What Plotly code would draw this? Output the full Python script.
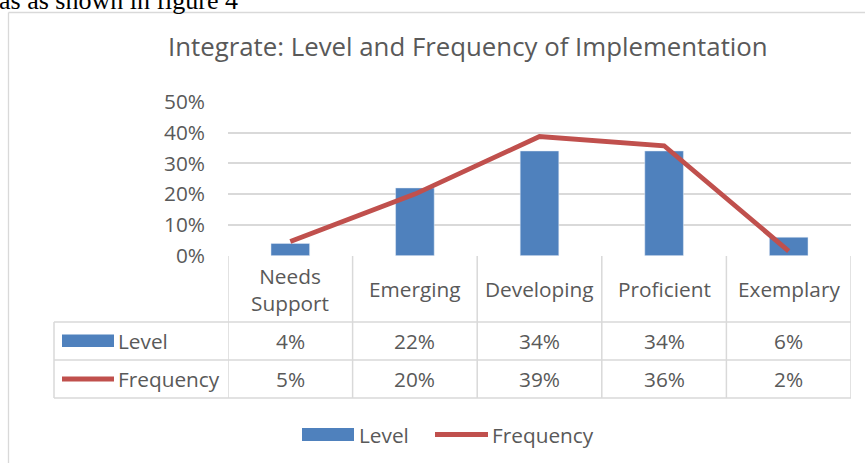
import plotly.graph_objects as go

categories = ["Needs<br>Support", "Emerging", "Developing", "Proficient", "Exemplary"]
level = [0.04, 0.22, 0.34, 0.34, 0.06]
frequency = [0.046, 0.20, 0.387, 0.357, 0.015]
level_labels = ["4%", "22%", "34%", "34%", "6%"]
frequency_labels = ["5%", "20%", "39%", "36%", "2%"]
series_names = ["Level", "Frequency"]
y_ticks = [0, 0.1, 0.2, 0.3, 0.4, 0.5]

W, H = 865, 463
BLUE = "#4F81BD"
RED = "#C0504D"
GRID = "#D9D9D9"
TXT = "#595959"
FONT = "Open Sans"


def px(x):
    return x / W


def py(y):
    return 1 - y / H


x_idx = list(range(len(categories)))

fig = go.Figure()
fig.add_trace(go.Bar(x=x_idx, y=level, name=series_names[0], marker_color=BLUE,
                     width=0.31, showlegend=False))
fig.add_trace(go.Scatter(x=x_idx, y=frequency, name=series_names[1], mode="lines",
                         line=dict(color=RED, width=4.8), showlegend=False))

shapes = []
# chart outer border
shapes.append(dict(type="line", xref="paper", yref="paper", x0=px(8.5), x1=px(8.5),
                   y0=py(12.5), y1=py(470), line=dict(color=GRID, width=1.3)))
shapes.append(dict(type="line", xref="paper", yref="paper", x0=px(8.5), x1=px(870),
                   y0=py(12.5), y1=py(12.5), line=dict(color=GRID, width=1.3)))

# data table grid
n = len(categories)
T_TOP, T_HDR, T_R1, T_R2 = 256, 322, 360, 398
LBL_LEFT = 54
for i in range(n + 1):
    shapes.append(dict(type="line", xref="x", yref="paper", x0=i - 0.5, x1=i - 0.5,
                       y0=py(T_TOP), y1=py(T_R2), line=dict(color=GRID, width=1.5)))
shapes.append(dict(type="line", xref="paper", yref="paper", x0=px(LBL_LEFT), x1=px(LBL_LEFT),
                   y0=py(T_HDR), y1=py(T_R2), line=dict(color=GRID, width=1.5)))
for yy in (T_HDR, T_R1, T_R2):
    shapes.append(dict(type="line", xref="paper", yref="paper",
                       x0=px(LBL_LEFT), x1=px(851), y0=py(yy), y1=py(yy),
                       line=dict(color=GRID, width=1.5)))

# legend keys inside table
shapes.append(dict(type="rect", xref="paper", yref="paper", x0=px(62), x1=px(114),
                   y0=py(347), y1=py(334.5), fillcolor=BLUE, line=dict(width=0)))
shapes.append(dict(type="line", xref="paper", yref="paper", x0=px(62), x1=px(114),
                   y0=py(379), y1=py(379), line=dict(color=RED, width=4.8)))
# bottom legend keys
shapes.append(dict(type="rect", xref="paper", yref="paper", x0=px(302), x1=px(354),
                   y0=py(441), y1=py(428), fillcolor=BLUE, line=dict(width=0)))
shapes.append(dict(type="line", xref="paper", yref="paper", x0=px(435), x1=px(488),
                   y0=py(434.5), y1=py(434.5), line=dict(color=RED, width=4.8)))

ann = []
tf = dict(family=FONT, size=20.8, color=TXT)
for i, c in enumerate(categories):
    ann.append(dict(x=i, y=py((T_TOP + T_HDR) / 2), xref="x", yref="paper", text=c,
                    showarrow=False, font=tf, xanchor="center", yanchor="middle"))
    ann.append(dict(x=i, y=py((T_HDR + T_R1) / 2), xref="x", yref="paper", text=level_labels[i],
                    showarrow=False, font=tf, xanchor="center", yanchor="middle"))
    ann.append(dict(x=i, y=py((T_R1 + T_R2) / 2), xref="x", yref="paper", text=frequency_labels[i],
                    showarrow=False, font=tf, xanchor="center", yanchor="middle"))
ann.append(dict(x=px(116), y=py((T_HDR + T_R1) / 2), xref="paper", yref="paper", text=series_names[0],
                showarrow=False, font=tf, xanchor="left", yanchor="middle"))
ann.append(dict(x=px(116), y=py((T_R1 + T_R2) / 2), xref="paper", yref="paper", text=series_names[1],
                showarrow=False, font=tf, xanchor="left", yanchor="middle"))
ann.append(dict(x=px(357), y=py(435), xref="paper", yref="paper", text=series_names[0],
                showarrow=False, font=tf, xanchor="left", yanchor="middle"))
ann.append(dict(x=px(490), y=py(435), xref="paper", yref="paper", text=series_names[1],
                showarrow=False, font=tf, xanchor="left", yanchor="middle"))
# title
ann.append(dict(x=px(467.5), y=py(46), xref="paper", yref="paper",
                text="Integrate: Level and Frequency of Implementation",
                showarrow=False, font=dict(family=FONT, size=25.8, color=TXT),
                xanchor="center", yanchor="middle"))
# cropped document text above the chart
ann.append(dict(x=px(-3), y=py(17), xref="paper", yref="paper", text="as as shown in figure 4",
                showarrow=False, font=dict(family="Liberation Serif", size=26, color="#000000"),
                xanchor="left", yanchor="bottom"))

fig.update_layout(
    width=W, height=H,
    margin=dict(l=0, r=0, t=0, b=0, pad=0, autoexpand=False),
    paper_bgcolor="white", plot_bgcolor="white",
    shapes=shapes, annotations=ann,
    xaxis=dict(domain=[px(228), px(851)], range=[-0.5, n - 0.5], showticklabels=False,
               showgrid=False, zeroline=False, showline=False, ticks="", automargin=False),
    yaxis=dict(domain=[py(255.7), py(101.7)], range=[0, 0.5], tickvals=y_ticks,
               tickformat=".0%", showgrid=True, gridcolor=GRID, gridwidth=1.5,
               zeroline=False, showline=False, ticks="", automargin=False,
               tickfont=dict(family=FONT, size=20.8, color=TXT), ticklabelstandoff=22),
)

fig.write_html("out.html", config={"displayModeBar": False},
               post_script="document.body.style.margin='0';")
